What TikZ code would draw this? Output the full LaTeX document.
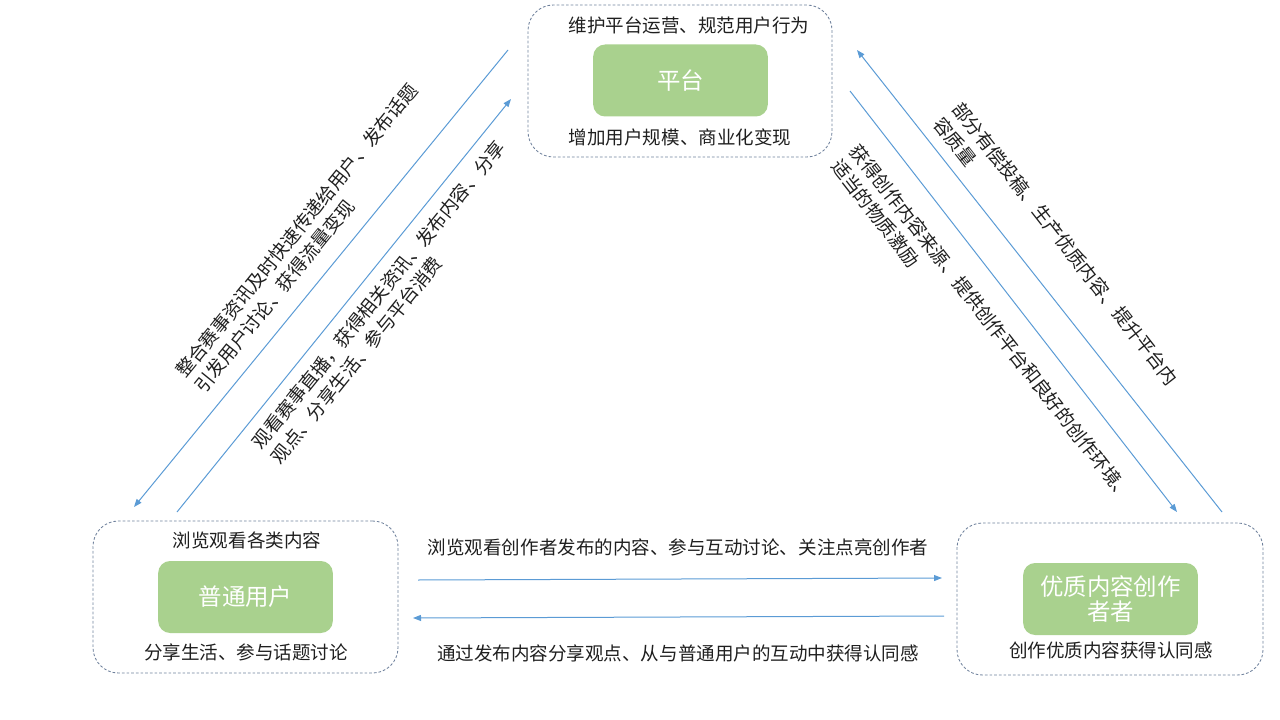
\documentclass[tikz,border=0pt]{standalone}
\usepackage{fontspec}
\setmainfont{Noto Sans CJK SC}
\usetikzlibrary{arrows.meta}
\definecolor{edgeblue}{HTML}{5B9BD5}
\definecolor{dashgray}{HTML}{6F819C}
\definecolor{boxgreen}{HTML}{A9D18E}
\begin{document}
\begin{tikzpicture}[x=0.75pt,y=-0.75pt,
  outerbox/.style={draw=dashgray, dash pattern=on 2pt off 1.5pt, line width=0.65pt,
    rounded corners=19pt, minimum height=114pt, inner sep=0pt},
  greenbox/.style={fill=boxgreen, rounded corners=9pt, minimum width=131pt,
    minimum height=54pt, text=white, font=\fontsize{17.6}{18.5}\selectfont,
    align=center, inner sep=0pt},
  lbl/.style={font=\fontsize{13.9}{18}\selectfont, inner sep=0pt, text=black!88},
  flow/.style={draw=edgeblue, line width=0.75pt, -{Triangle[length=6pt,width=4.5pt]}}]
\useasboundingbox (0,0) rectangle (1280,720);
% boxes
\node[outerbox, minimum width=228pt] (topouter) at (680,81) {};
\node[greenbox] (platform) at (680.5,80.5) {平台};
\node[lbl] (toptxt1) at (689,25) {维护平台运营、规范用户行为};
\node[lbl] (toptxt2) at (680,137) {增加用户规模、商业化变现};

\node[outerbox, minimum width=228.75pt] (leftouter) at (245.5,597) {};
\node[greenbox] (user) at (245.5,597) {普通用户};
\node[lbl] (lefttxt1) at (247,540) {浏览观看各类内容};
\node[lbl] (lefttxt2) at (246,652) {分享生活、参与话题讨论};

\node[outerbox, minimum width=229.5pt] (rightouter) at (1110,599) {};
\node[greenbox] (creator) at (1110.5,599) {优质内容创作\\者者};
\node[lbl] (righttxt) at (1111,650) {创作优质内容获得认同感};

% arrow end points
\coordinate (a1s) at (508,50);  \coordinate (a1e) at (134,507);
\coordinate (a2s) at (177,512); \coordinate (a2e) at (511,99);
\coordinate (a3s) at (1222,512);\coordinate (a3e) at (857,50);
\coordinate (a4s) at (850,91);  \coordinate (a4e) at (1177,512);
\coordinate (h1s) at (418,580); \coordinate (h1e) at (942,578);
\coordinate (h2s) at (944,616); \coordinate (h2e) at (413,618);

\draw[flow] (a1s) -- (a1e);
\draw[flow] (a2s) -- (a2e);
\draw[flow] (a3s) -- (a3e);
\draw[flow] (a4s) -- (a4e);
\draw[flow] (h1s) -- (h1e);
\draw[flow] (h2s) -- (h2e);

% labels
\node[lbl, rotate=51, align=left] (lt) at (306,238)
  {整合赛事资讯及时快速传递给用户、发布话题\\引发用户讨论、获得流量变现};
\node[lbl, rotate=51, align=left] (lb) at (388,302)
  {观看赛事直播，获得相关资讯、发布内容、分享\\观点、分享生活、参与平台消费};
\node[lbl, rotate=-52, align=left] (ro) at (1056,251)
  {部分有偿投稿、生产优质内容、提升平台内\\容质量};
\node[lbl, rotate=-52, align=left] (ri) at (982,330)
  {获得创作内容来源、提供创作平台和良好的创作环境、\\适当的物质激励};
\node[lbl] (htop) at (678,547) {浏览观看创作者发布的内容、参与互动讨论、关注点亮创作者};
\node[lbl] (hbot) at (678,653) {通过发布内容分享观点、从与普通用户的互动中获得认同感};
\end{tikzpicture}
\end{document}
